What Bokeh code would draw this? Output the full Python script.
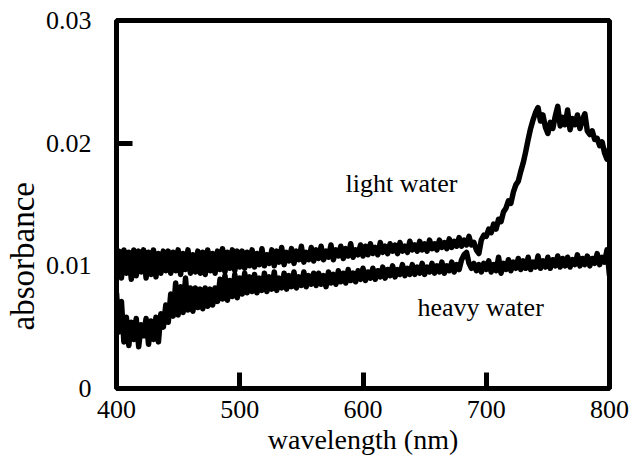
from bokeh.plotting import figure
from bokeh.models import Range1d, FixedTicker, Label, Title
from bokeh.embed import file_html
from bokeh.resources import INLINE

# wavelength grid (nm), 2 nm step
wavelength = list(range(400, 801, 2))

light_water = [
    # 400-440
    0.0097, 0.0112, 0.0090, 0.0113, 0.0094, 0.0111, 0.0089, 0.0113, 0.0092, 0.0112,
    0.0095, 0.0113, 0.0090, 0.0111, 0.0093, 0.0113, 0.0091, 0.0110, 0.0094, 0.0112, 0.0096,
    # 442-500
    0.0112, 0.0094, 0.0111, 0.0096, 0.0113, 0.0093, 0.0110, 0.0097, 0.0113, 0.0094,
    0.0109, 0.0095, 0.0112, 0.0094, 0.0111, 0.0093, 0.0113, 0.0096, 0.0110, 0.0094,
    0.0112, 0.0097, 0.0114, 0.0095, 0.0111, 0.0098, 0.0113, 0.0096, 0.0112, 0.0099,
    # 502-600
    0.0112, 0.0098, 0.0111, 0.0100, 0.0113, 0.0099, 0.0110, 0.0101, 0.0114, 0.0100,
    0.0109, 0.0102, 0.0113, 0.0100, 0.0112, 0.0103, 0.0115, 0.0101, 0.0111, 0.0104,
    0.0114, 0.0102, 0.0112, 0.0105, 0.0116, 0.0103, 0.0111, 0.0105, 0.0115, 0.0104,
    0.0113, 0.0106, 0.0116, 0.0105, 0.0112, 0.0107, 0.0117, 0.0105, 0.0113, 0.0108,
    0.0116, 0.0106, 0.0114, 0.0108, 0.0118, 0.0107, 0.0113, 0.0109, 0.0117, 0.0108,
    # 602-700
    0.0116, 0.0109, 0.0118, 0.0110, 0.0115, 0.0109, 0.0119, 0.0111, 0.0116, 0.0110,
    0.0118, 0.0112, 0.0117, 0.0110, 0.0119, 0.0112, 0.0116, 0.0111, 0.0120, 0.0113,
    0.0117, 0.0112, 0.0120, 0.0113, 0.0118, 0.0112, 0.0121, 0.0114, 0.0118, 0.0113,
    0.0121, 0.0115, 0.0119, 0.0114, 0.0122, 0.0115, 0.0120, 0.0116, 0.0123, 0.0116,
    0.0121, 0.0117, 0.0124, 0.0117, 0.0119, 0.0113, 0.0110, 0.0121, 0.0125, 0.0124,
    # 702-740
    0.0130, 0.0127, 0.0134, 0.0130, 0.0138, 0.0136, 0.0144, 0.0147, 0.0153, 0.0151,
    0.0160, 0.0166, 0.0169, 0.0177, 0.0184, 0.0193, 0.0203, 0.0212, 0.0219, 0.0225,
    # 742-800
    0.0229, 0.0218, 0.0223, 0.0213, 0.0208, 0.0217, 0.0212, 0.0222, 0.0230, 0.0214,
    0.0221, 0.0215, 0.0227, 0.0211, 0.0220, 0.0215, 0.0223, 0.0212, 0.0219, 0.0224,
    0.0210, 0.0207, 0.0210, 0.0203, 0.0204, 0.0198, 0.0201, 0.0192, 0.0187, 0.0196,
]

heavy_water = [
    # 400-436
    0.0078, 0.0046, 0.0071, 0.0038, 0.0058, 0.0035, 0.0054, 0.0040, 0.0057, 0.0034,
    0.0052, 0.0043, 0.0057, 0.0036, 0.0055, 0.0040, 0.0058, 0.0038, 0.0061,
    # 438-480
    0.0050, 0.0068, 0.0054, 0.0077, 0.0059, 0.0086, 0.0060, 0.0083, 0.0062, 0.0090,
    0.0064, 0.0082, 0.0063, 0.0082, 0.0066, 0.0081, 0.0065, 0.0082, 0.0067, 0.0081,
    0.0068, 0.0082,
    # 482-560
    0.0071, 0.0089, 0.0073, 0.0092, 0.0072, 0.0088, 0.0075, 0.0093, 0.0074, 0.0090,
    0.0077, 0.0094, 0.0078, 0.0091, 0.0079, 0.0093, 0.0078, 0.0090, 0.0080, 0.0094,
    0.0079, 0.0091, 0.0081, 0.0095, 0.0080, 0.0090, 0.0082, 0.0094, 0.0081, 0.0092,
    0.0083, 0.0095, 0.0082, 0.0091, 0.0084, 0.0095, 0.0083, 0.0092, 0.0085, 0.0094,
    # 562-680
    0.0084, 0.0094, 0.0085, 0.0092, 0.0083, 0.0095, 0.0086, 0.0093, 0.0085, 0.0096,
    0.0087, 0.0094, 0.0086, 0.0097, 0.0088, 0.0094, 0.0087, 0.0096, 0.0089, 0.0098,
    0.0088, 0.0095, 0.0090, 0.0098, 0.0089, 0.0096, 0.0091, 0.0099, 0.0090, 0.0097,
    0.0092, 0.0100, 0.0091, 0.0097, 0.0093, 0.0101, 0.0092, 0.0098, 0.0093, 0.0101,
    0.0093, 0.0099, 0.0094, 0.0102, 0.0093, 0.0099, 0.0095, 0.0102, 0.0094, 0.0100,
    0.0095, 0.0103, 0.0094, 0.0100, 0.0096, 0.0103, 0.0095, 0.0101, 0.0097, 0.0105,
    # 682-800
    0.0109, 0.0111, 0.0102, 0.0098, 0.0102, 0.0096, 0.0101, 0.0095, 0.0102, 0.0097,
    0.0104, 0.0095, 0.0101, 0.0096, 0.0107, 0.0094, 0.0102, 0.0097, 0.0105, 0.0096,
    0.0103, 0.0098, 0.0106, 0.0097, 0.0104, 0.0098, 0.0107, 0.0097, 0.0103, 0.0099,
    0.0108, 0.0098, 0.0104, 0.0099, 0.0107, 0.0098, 0.0105, 0.0100, 0.0108, 0.0099,
    0.0106, 0.0100, 0.0107, 0.0099, 0.0105, 0.0101, 0.0109, 0.0100, 0.0106, 0.0101,
    0.0108, 0.0100, 0.0106, 0.0102, 0.0110, 0.0101, 0.0107, 0.0103, 0.0113, 0.0092,
]

assert len(light_water) == len(wavelength), len(light_water)
assert len(heavy_water) == len(wavelength), len(heavy_water)

x_ticks = [400, 500, 600, 700, 800]
x_tick_labels = ["400", "500", "600", "700", "800"]
y_ticks = [0, 0.01, 0.02, 0.03]
y_tick_labels = ["0", "0.01", "0.02", "0.03"]

FONT = "Liberation Serif"

p = figure(width=633, height=457, output_backend="svg", toolbar_location=None,
           x_range=Range1d(400, 800), y_range=Range1d(0, 0.03),
           min_border_left=116, min_border_right=24, min_border_top=20, min_border_bottom=68)
p.grid.visible = False
p.background_fill_color = "white"
p.border_fill_color = "white"
p.outline_line_color = "black"
p.outline_line_width = 5
p.outline_line_alpha = 1.0

p.line(wavelength, light_water, line_color="black", line_width=5.5, line_join="round")
p.line(wavelength, heavy_water, line_color="black", line_width=5.5, line_join="round")

for ax, ticks, labels in ((p.xaxis[0], x_ticks, x_tick_labels), (p.yaxis[0], y_ticks, y_tick_labels)):
    ax.ticker = FixedTicker(ticks=ticks)
    ax.major_label_overrides = {t: l for t, l in zip(ticks, labels)}
    ax.axis_line_color = None
    ax.major_tick_in = 16
    ax.major_tick_out = 0
    ax.major_tick_line_width = 5
    ax.major_tick_line_color = "black"
    ax.minor_tick_line_color = None
    ax.major_label_text_font = FONT
    ax.major_label_text_font_size = "26px"
    ax.major_label_text_color = "black"

p.xaxis.major_label_standoff = 12
p.yaxis.major_label_standoff = 25

p.xaxis.axis_label = "wavelength (nm)"
p.xaxis.axis_label_text_font = FONT
p.xaxis.axis_label_text_font_size = "28px"
p.xaxis.axis_label_text_font_style = "normal"
p.xaxis.axis_label_text_color = "black"
p.xaxis.axis_label_standoff = 3

p.add_layout(Title(text="absorbance", align="left", offset=58, text_font=FONT,
                   text_font_size="33px", text_font_style="normal", text_color="black",
                   standoff=4), "left")

p.add_layout(Label(x=585.8, y=0.0167, text="light water", text_font=FONT,
                   text_font_size="26px", text_color="black", text_baseline="alphabetic"))
p.add_layout(Label(x=644.2, y=0.0066, text="heavy water", text_font=FONT,
                   text_font_size="26px", text_color="black", text_baseline="alphabetic"))

open("out.html", "w").write(file_html(p, INLINE))
